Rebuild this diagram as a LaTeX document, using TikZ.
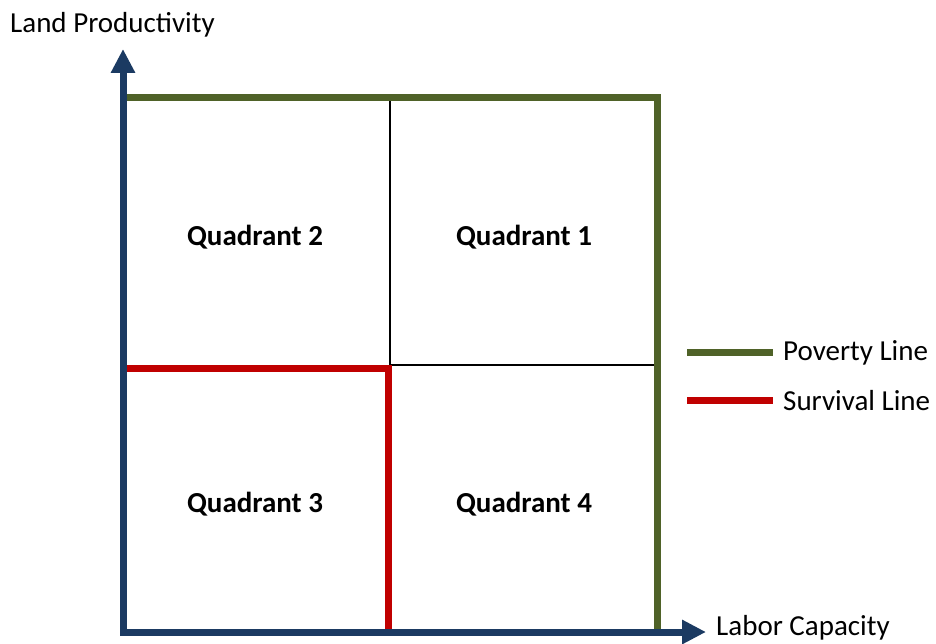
\documentclass[tikz,border=0pt]{standalone}
\usepackage{fontspec}
\setmainfont{Carlito}
\usepackage{xcolor}
\usepackage{tikz}
\usetikzlibrary{arrows.meta}

\definecolor{axisblue}{HTML}{1B3A62}
\definecolor{povgreen}{HTML}{4F6228}
\definecolor{survred}{HTML}{C00000}

\begin{document}
\begin{tikzpicture}[x=1pt, y=-1pt,
    axis/.style={line width=7pt, draw=axisblue, {Triangle[length=24pt, width=23pt]}-{Triangle[length=24pt, width=23pt]}},
    poverty/.style={line width=7pt, draw=povgreen},
    survival/.style={line width=7pt, draw=survred},
    grid/.style={line width=2pt, draw=black},
    quad/.style={font=\bfseries\fontsize{29}{34}\selectfont, inner sep=0pt},
    lbl/.style={font=\fontsize{29}{34}\selectfont, inner sep=0pt, anchor=west}]
    \useasboundingbox (0,0) rectangle (936,644);

    % Axes corners
    \coordinate (ytip) at (123,49);
    \coordinate (origin) at (123,632);
    \coordinate (xtip) at (706,632);

    % Poverty line box
    \coordinate (pA) at (120,98);
    \coordinate (pB) at (657,98);
    \coordinate (pC) at (657,632);

    % Quadrant dividers
    \coordinate (midT) at (389.5,98);
    \coordinate (midC) at (389.5,365);
    \coordinate (midR) at (657,365);

    % Survival line
    \coordinate (sA) at (120,368);
    \coordinate (sB) at (388,368);
    \coordinate (sC) at (388,632);

    \draw[grid] (midT) -- (midC);
    \draw[grid] (midC) -- (midR);
    \draw[poverty] (pA) -- (pB) -- (pC);
    \draw[survival] (sA) -- (sB) -- (sC);
    \draw[axis] (ytip) -- (origin) -- (xtip);

    % Quadrant labels
    \node[quad] (q2) at (255,237) {Quadrant 2};
    \node[quad] (q1) at (524,237) {Quadrant 1};
    \node[quad] (q3) at (255,504) {Quadrant 3};
    \node[quad] (q4) at (524,504) {Quadrant 4};

    % Axis labels
    \node[lbl] (ylab) at (10,25) {Land Productivity};
    \node[lbl] (xlab) at (716,628) {Labor Capacity};

    % Legend
    \coordinate (povkey) at (687,352);
    \coordinate (povend) at (773,352);
    \coordinate (surkey) at (687,400);
    \coordinate (surend) at (773,400);
    \draw[poverty] (povkey) -- (povend);
    \draw[survival] (surkey) -- (surend);
    \node[lbl] (povlab) at (783,353) {Poverty Line};
    \node[lbl] (surlab) at (783,401) {Survival Line};
\end{tikzpicture}
\end{document}
